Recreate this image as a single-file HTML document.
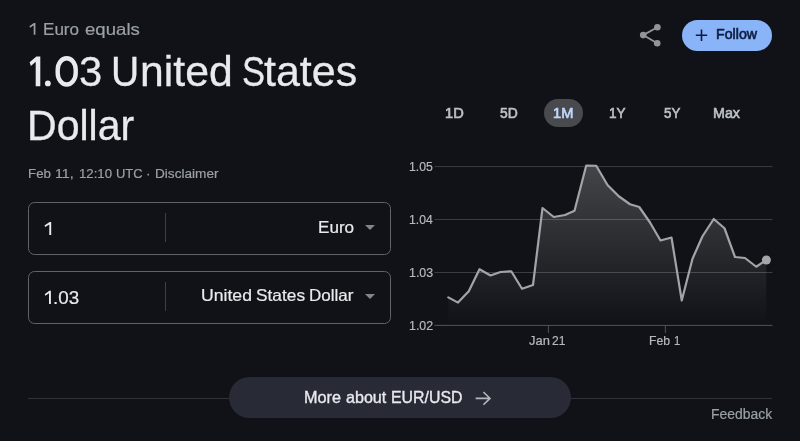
<!DOCTYPE html>
<html>
<head>
<meta charset="utf-8">
<style>
html,body{margin:0;padding:0;}
body{width:800px;height:441px;background:#101217;overflow:hidden;position:relative;font-family:"Liberation Sans",sans-serif;color:#e8eaed;}
.t{position:absolute;white-space:nowrap;line-height:1;transform-origin:0 0;}
.box{position:absolute;left:28px;width:361.2px;height:50.7px;border:1px solid #5f6368;border-radius:6.5px;box-sizing:content-box;}
.box .div{position:absolute;left:136px;top:10px;width:1px;height:29px;background:#3c4043;}
.arr{position:absolute;width:0;height:0;border-left:5.5px solid transparent;border-right:5.5px solid transparent;border-top:5.5px solid #80868b;}
#b1{top:202px;}
#b2{top:271.1px;}
#hr{position:absolute;left:28px;top:397.9px;width:744px;height:1px;background:#2f3238;}
#more{position:absolute;left:229px;top:377px;width:342px;height:41px;border-radius:20.5px;background:#282a36;}
#follow{position:absolute;left:682px;top:19.5px;width:90.3px;height:31.5px;border-radius:16px;background:#8ab4f8;}
#pill{position:absolute;left:543.8px;top:99.3px;width:38.8px;height:27.4px;border-radius:14px;background:#484a4e;}
</style>
</head>
<body>
<div class="box" id="b1"><div class="div"></div></div>
<div class="box" id="b2"><div class="div"></div></div>
<div class="arr" style="left:365.4px;top:225px"></div>
<div class="arr" style="left:365.4px;top:293.5px"></div>
<div id="hr"></div>
<div id="more"></div>
<svg style="position:absolute;left:0;top:0" width="800" height="441" viewBox="0 0 800 441">
<defs><linearGradient id="g" x1="0" y1="165" x2="0" y2="325" gradientUnits="userSpaceOnUse">
<stop offset="0" stop-color="#ffffff" stop-opacity="0.215"/><stop offset="1" stop-color="#ffffff" stop-opacity="0"/></linearGradient></defs>
<g stroke="#3a3d44" stroke-width="1">
<line x1="434.5" y1="166.6" x2="772.5" y2="166.6"/>
<line x1="434.5" y1="219.5" x2="772.5" y2="219.5"/>
<line x1="434.5" y1="272.5" x2="772.5" y2="272.5"/>
<line x1="434.5" y1="325.4" x2="772.5" y2="325.4" stroke="#50535a"/>
<line x1="548.4" y1="325.5" x2="548.4" y2="333" stroke="#50535a"/>
<line x1="665.4" y1="325.5" x2="665.4" y2="333" stroke="#50535a"/>
</g>
<path d="M448.3,297.4 L458,302.6 L468.75,291.25 L479.5,269.25 L490.5,275.5 L500.5,272 L511.25,271.25 L522,288.75 L533,285 L542.5,208 L553.75,217 L565,215 L574.5,210.75 L586.25,165.5 L596.25,165.75 L607.5,185 L618.75,196.25 L630,204.25 L639.25,207 L650,222.5 L660.5,240.5 L671.5,237.5 L681.75,300.5 L692.5,258.75 L702.5,236.25 L713.75,219 L724.5,228.25 L735,257 L745,258 L756.25,266.75 L766.25,260 L766.25,325.5 L448.3,325.5 Z" fill="url(#g)"/>
<path d="M448.3,297.4 L458,302.6 L468.75,291.25 L479.5,269.25 L490.5,275.5 L500.5,272 L511.25,271.25 L522,288.75 L533,285 L542.5,208 L553.75,217 L565,215 L574.5,210.75 L586.25,165.5 L596.25,165.75 L607.5,185 L618.75,196.25 L630,204.25 L639.25,207 L650,222.5 L660.5,240.5 L671.5,237.5 L681.75,300.5 L692.5,258.75 L702.5,236.25 L713.75,219 L724.5,228.25 L735,257 L745,258 L756.25,266.75 L766.25,260" fill="none" stroke="#a2a4a8" stroke-width="2.2" stroke-linejoin="round" stroke-linecap="round"/>
<circle cx="766.4" cy="260" r="4.5" fill="#a4a6aa"/>
<!-- share -->
<path d="M657.4 27.25L643.2 35.1L657.2 43.3" fill="none" stroke="#919499" stroke-width="1.8"/>
<circle cx="657.4" cy="27.25" r="3.3" fill="#919499"/><circle cx="643.2" cy="35.1" r="3.3" fill="#919499"/><circle cx="657.2" cy="43.3" r="3.3" fill="#919499"/>
<!-- custom digits -->
<g fill="#e8eaed">
<path d="M40.3 56.6V86.2H35.7V61.7L30.9 65.9L29.6 62.3L36.4 56.6Z"/>
<circle cx="47.85" cy="83.4" r="2.9"/>
<rect x="57.7" y="58.3" width="18.0" height="26.2" rx="9" ry="11.5" fill="none" stroke="#e8eaed" stroke-width="4.4"/>
<path d="M51.2 222V235.1H49.3V224.4L45.2 227L44.5 225.4L49.6 222Z"/>
<path d="M50.9 290.85V303.9H49.0V293.25L45.4 295.85L44.7 294.25L49.3 290.85Z"/>
</g>
<path d="M35.4 23V34.7H33.7V25.3L30.1 27.7L29.4 26.2L33.9 23Z" fill="#9aa0a6"/>
<!-- more arrow -->
<path d="M475.6 398.4H489.6M483.4 392L490 398.4L483.4 404.8" fill="none" stroke="#b4b7bc" stroke-width="1.6"/>
</svg>
<div id="follow"></div>
<svg style="position:absolute;left:0;top:0" width="800" height="441" viewBox="0 0 800 441">
<path d="M701.5 29.5V41M695.8 35.25H707.2" stroke="#0c1d42" stroke-width="1.6" fill="none"/>
</svg>
<div id="pill"></div>
<div id="tx" style="position:absolute;left:0;top:0;width:800px;height:441px;will-change:transform">
<div class="t" style="left:42.62px;top:20.82px;font-size:16.5px;color:#9aa0a6;font-weight:normal;transform:scaleX(1.0337);-webkit-text-stroke:0.2px;">Euro</div>
<div class="t" style="left:85.09px;top:20.82px;font-size:16.5px;color:#9aa0a6;font-weight:normal;transform:scaleX(1.1272);-webkit-text-stroke:0.2px;">equals</div>
<div class="t" style="left:78.68px;top:50.95px;font-size:42px;color:#e8eaed;font-weight:normal;transform:scaleX(0.9926);-webkit-text-stroke:0.3px;">3</div>
<div class="t" style="left:111.05px;top:50.95px;font-size:42px;color:#e8eaed;font-weight:normal;transform:scaleX(0.9289);-webkit-text-stroke:0.3px;">U</div>
<div class="t" style="left:139.93px;top:50.95px;font-size:42px;color:#e8eaed;font-weight:normal;transform:scaleX(1.0173);-webkit-text-stroke:0.3px;">nited</div>
<div class="t" style="left:241.56px;top:50.95px;font-size:42px;color:#e8eaed;font-weight:normal;transform:scaleX(0.8232);-webkit-text-stroke:0.3px;">S</div>
<div class="t" style="left:263.6px;top:50.95px;font-size:42px;color:#e8eaed;font-weight:normal;transform:scaleX(1.023);-webkit-text-stroke:0.3px;">tates</div>
<div class="t" style="left:27.24px;top:105.35px;font-size:42px;color:#e8eaed;font-weight:normal;transform:scaleX(0.9773);-webkit-text-stroke:0.3px;">Dollar</div>
<div class="t" style="left:27.86px;top:166.68px;font-size:13px;color:#9aa0a6;font-weight:normal;transform:scaleX(1.0238);-webkit-text-stroke:0.2px;">Feb</div>
<div class="t" style="left:55.38px;top:166.68px;font-size:13px;color:#9aa0a6;font-weight:normal;transform:scaleX(1.0933);-webkit-text-stroke:0.2px;">11,</div>
<div class="t" style="left:78.59px;top:166.68px;font-size:13px;color:#9aa0a6;font-weight:normal;transform:scaleX(1.0137);-webkit-text-stroke:0.2px;">12:10</div>
<div class="t" style="left:116.42px;top:166.68px;font-size:13px;color:#9aa0a6;font-weight:normal;transform:scaleX(0.997);-webkit-text-stroke:0.2px;">UTC</div>
<div class="t" style="left:146.37px;top:166.68px;font-size:13px;color:#9aa0a6;font-weight:normal;transform:scaleX(1.0346);-webkit-text-stroke:0.2px;">·</div>
<div class="t" style="left:155.09px;top:166.68px;font-size:13px;color:#9aa0a6;font-weight:normal;transform:scaleX(1.047);-webkit-text-stroke:0.2px;">Disclaimer</div>
<div class="t" style="left:318.12px;top:219.12px;font-size:16.5px;color:#e8eaed;font-weight:normal;transform:scaleX(1.0352);-webkit-text-stroke:0.2px;">Euro</div>
<div class="t" style="left:53.37px;top:288.93px;font-size:18px;color:#e8eaed;font-weight:normal;transform:scaleX(1.0426);-webkit-text-stroke:0.2px;">.03</div>
<div class="t" style="left:200.8px;top:287.37px;font-size:16.5px;color:#e8eaed;font-weight:normal;transform:scaleX(1.0684);-webkit-text-stroke:0.2px;">United</div>
<div class="t" style="left:255.81px;top:287.37px;font-size:16.5px;color:#e8eaed;font-weight:normal;transform:scaleX(1.0482);-webkit-text-stroke:0.2px;">States</div>
<div class="t" style="left:309.42px;top:287.37px;font-size:16.5px;color:#e8eaed;font-weight:normal;transform:scaleX(1.032);-webkit-text-stroke:0.2px;">Dollar</div>
<div class="t" style="left:304.27px;top:389.38px;font-size:16.5px;color:#e8eaed;font-weight:normal;transform:scaleX(0.9828);-webkit-text-stroke:0.35px;">More</div>
<div class="t" style="left:346.44px;top:389.38px;font-size:16.5px;color:#e8eaed;font-weight:normal;transform:scaleX(0.9754);-webkit-text-stroke:0.35px;">about</div>
<div class="t" style="left:391.4px;top:389.38px;font-size:16.5px;color:#e8eaed;font-weight:normal;transform:scaleX(0.9621);-webkit-text-stroke:0.35px;">EUR/USD</div>
<div class="t" style="left:710.86px;top:407.37px;font-size:14.0px;color:#9aa0a6;font-weight:normal;transform:scaleX(0.9951);-webkit-text-stroke:0.2px;">Feedback</div>
<div class="t" style="left:716.4px;top:27.35px;font-size:14px;color:#0c1d42;font-weight:normal;transform:scaleX(1.0149);-webkit-text-stroke:0.6px;">Follow</div>
<div class="t" style="left:444.55px;top:105.75px;font-size:14px;color:#bdc1c6;font-weight:normal;transform:scaleX(1.0447);-webkit-text-stroke:0.6px;">1D</div>
<div class="t" style="left:499.68px;top:105.75px;font-size:14px;color:#bdc1c6;font-weight:normal;transform:scaleX(0.9918);-webkit-text-stroke:0.6px;">5D</div>
<div class="t" style="left:552.87px;top:105.75px;font-size:14px;color:#c2d7fb;font-weight:normal;transform:scaleX(1.0444);-webkit-text-stroke:0.65px;">1M</div>
<div class="t" style="left:609.21px;top:105.75px;font-size:14px;color:#bdc1c6;font-weight:normal;transform:scaleX(0.9688);-webkit-text-stroke:0.6px;">1Y</div>
<div class="t" style="left:663.7px;top:105.75px;font-size:14px;color:#bdc1c6;font-weight:normal;transform:scaleX(0.9518);-webkit-text-stroke:0.6px;">5Y</div>
<div class="t" style="left:712.8px;top:105.75px;font-size:14px;color:#bdc1c6;font-weight:normal;transform:scaleX(1.0205);-webkit-text-stroke:0.6px;">Max</div>
<div class="t" style="left:409.25px;top:160.38px;font-size:13px;color:#b6b9bd;font-weight:normal;transform:scaleX(0.9419);-webkit-text-stroke:0.2px;">1.05</div>
<div class="t" style="left:409.25px;top:213.28px;font-size:13px;color:#b6b9bd;font-weight:normal;transform:scaleX(0.9368);-webkit-text-stroke:0.2px;">1.04</div>
<div class="t" style="left:409.24px;top:266.18px;font-size:13px;color:#b6b9bd;font-weight:normal;transform:scaleX(0.9552);-webkit-text-stroke:0.2px;">1.03</div>
<div class="t" style="left:409.24px;top:319.08px;font-size:13px;color:#b6b9bd;font-weight:normal;transform:scaleX(0.9543);-webkit-text-stroke:0.2px;">1.02</div>
<div class="t" style="left:528.68px;top:334.03px;font-size:13px;color:#b6b9bd;font-weight:normal;transform:scaleX(0.9931);-webkit-text-stroke:0.2px;">Jan</div>
<div class="t" style="left:552.25px;top:334.03px;font-size:13px;color:#b6b9bd;font-weight:normal;transform:scaleX(0.927);-webkit-text-stroke:0.2px;">21</div>
<div class="t" style="left:648.98px;top:334.03px;font-size:13px;color:#b6b9bd;font-weight:normal;transform:scaleX(0.9418);-webkit-text-stroke:0.2px;">Feb</div>
<div class="t" style="left:673.51px;top:334.03px;font-size:13px;color:#b6b9bd;font-weight:normal;transform:scaleX(0.8628);-webkit-text-stroke:0.2px;">1</div>
</div>
</body>
</html>
